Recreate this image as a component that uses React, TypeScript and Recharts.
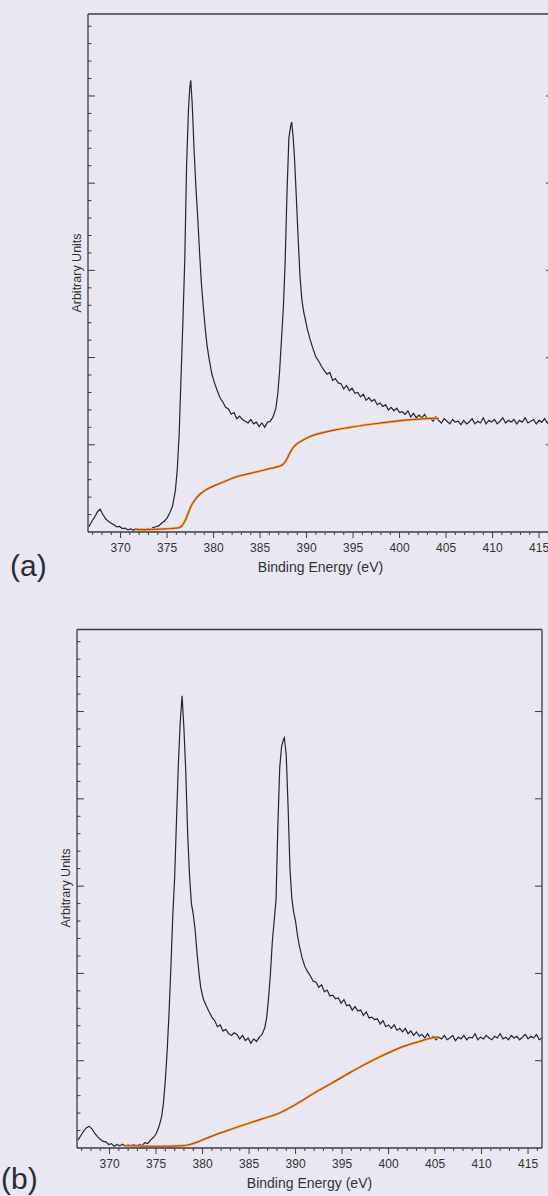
import { LineChart, Line, XAxis, YAxis } from "recharts";

// Binding energy (eV) vs intensity (arbitrary units, 1 unit = one minor y tick)
type Pt = [number, number];

const energyTicksMinor = [
  367, 368, 369, 370, 371, 372, 373, 374, 375, 376, 377, 378, 379, 380, 381, 382, 383,
  384, 385, 386, 387, 388, 389, 390, 391, 392, 393, 394, 395, 396, 397, 398, 399, 400,
  401, 402, 403, 404, 405, 406, 407, 408, 409, 410, 411, 412, 413, 414, 415, 416,
];
const energyTicksMajor = [370, 375, 380, 385, 390, 395, 400, 405, 410, 415];
const intensityTicksMinor = [
  1, 2, 3, 4, 5, 6, 7, 8, 9, 10, 11, 12, 13, 14, 15, 16, 17, 18, 19, 20, 21, 22, 23,
  24, 25, 26, 27, 28, 29,
];
const intensityTicksMajor = [5, 10, 15, 20, 25];

const spectrumA: Pt[] = [
  [366.6, 0.3], [366.9, 0.6], [367.2, 0.85], [367.5, 1.15], [367.8, 1.3], [368.1, 1.0],
  [368.4, 0.75], [368.7, 0.6], [369.0, 0.5], [369.3, 0.42], [369.6, 0.3], [369.9, 0.32],
  [370.2, 0.2], [370.5, 0.22], [370.8, 0.12], [371.1, 0.18], [371.4, 0.1], [371.7, 0.2],
  [372.0, 0.12], [372.3, 0.17], [372.6, 0.1], [372.9, 0.2], [373.2, 0.15], [373.5, 0.25],
  [373.8, 0.3], [374.1, 0.35], [374.4, 0.5], [374.7, 0.62], [375.0, 0.8], [375.3, 1.1],
  [375.6, 1.5], [375.9, 2.4], [376.1, 3.6], [376.3, 5.6], [376.5, 8.8], [376.7, 12.0],
  [376.9, 15.5], [377.1, 21.0], [377.3, 24.2], [377.45, 25.5], [377.55, 25.9], [377.7, 24.6],
  [377.9, 22.0], [378.1, 19.8], [378.3, 18.0], [378.5, 16.0], [378.7, 14.2], [378.9, 12.9],
  [379.1, 11.7], [379.3, 10.7], [379.5, 10.0], [379.8, 9.1], [380.1, 8.55], [380.4, 8.1],
  [380.7, 7.7], [381.0, 7.45], [381.3, 7.15], [381.6, 7.05], [381.9, 6.75], [382.2, 6.85],
  [382.5, 6.5], [382.8, 6.65], [383.1, 6.45], [383.4, 6.35], [383.7, 6.25], [384.0, 6.45],
  [384.3, 6.2], [384.6, 6.3], [384.9, 6.05], [385.2, 6.25], [385.5, 6.0], [385.8, 6.3],
  [386.1, 6.35], [386.4, 6.6], [386.7, 7.1], [386.9, 7.9], [387.1, 9.2], [387.3, 11.0],
  [387.5, 12.8], [387.7, 15.5], [387.9, 19.5], [388.1, 22.6], [388.3, 23.3], [388.4, 23.5],
  [388.55, 22.7], [388.7, 21.5], [388.9, 19.2], [389.1, 16.8], [389.3, 14.6], [389.5, 13.3],
  [389.7, 12.6], [389.9, 12.1], [390.1, 11.6], [390.4, 11.0], [390.7, 10.5], [391.0, 10.05],
  [391.3, 9.8], [391.6, 9.5], [391.9, 9.25], [392.2, 9.05], [392.5, 9.15], [392.8, 8.7],
  [393.1, 8.8], [393.4, 8.55], [393.7, 8.5], [394.0, 8.2], [394.3, 8.4], [394.6, 8.1],
  [394.9, 8.25], [395.2, 7.95], [395.5, 8.0], [395.8, 7.75], [396.1, 7.9], [396.4, 7.55],
  [396.7, 7.7], [397.0, 7.5], [397.3, 7.6], [397.6, 7.3], [397.9, 7.4], [398.2, 7.2],
  [398.5, 7.3], [398.8, 7.0], [399.1, 7.15], [399.4, 6.95], [399.7, 7.1], [400.0, 6.85],
  [400.3, 6.9], [400.6, 6.75], [400.9, 6.95], [401.2, 6.6], [401.5, 6.8], [401.8, 6.55],
  [402.1, 6.7], [402.4, 6.55], [402.7, 6.75], [403.0, 6.45], [403.3, 6.55], [403.6, 6.35],
  [403.9, 6.6], [404.2, 6.4], [404.5, 6.25], [404.8, 6.5], [405.1, 6.35], [405.4, 6.2],
  [405.7, 6.45], [406.0, 6.3], [406.3, 6.35], [406.6, 6.15], [406.9, 6.4], [407.2, 6.2],
  [407.5, 6.3], [407.8, 6.5], [408.1, 6.2], [408.4, 6.35], [408.7, 6.25], [409.0, 6.55],
  [409.3, 6.2], [409.6, 6.4], [409.9, 6.3], [410.2, 6.45], [410.5, 6.2], [410.8, 6.35],
  [411.1, 6.55], [411.4, 6.25], [411.7, 6.4], [412.0, 6.3], [412.3, 6.45], [412.6, 6.2],
  [412.9, 6.4], [413.2, 6.3], [413.5, 6.55], [413.8, 6.25], [414.1, 6.35], [414.4, 6.45],
  [414.7, 6.2], [415.0, 6.4], [415.3, 6.3], [415.6, 6.5], [415.9, 6.25], [416.2, 6.4],
  [416.5, 6.3],
];

const backgroundA: Pt[] = [
  [371.6, 0.15], [372.5, 0.14], [373.5, 0.15], [374.5, 0.17], [375.5, 0.2], [376.2, 0.24],
  [376.5, 0.3], [376.9, 0.6], [377.27, 1.07], [377.6, 1.5], [378.0, 1.84], [378.5, 2.15],
  [379.16, 2.41], [380.3, 2.7], [381.5, 2.97], [382.56, 3.18], [383.7, 3.33], [384.8, 3.47],
  [386.0, 3.63], [387.0, 3.76], [387.5, 3.9], [387.84, 4.14], [388.1, 4.42], [388.4, 4.71],
  [388.8, 4.98], [389.35, 5.19], [390.0, 5.38], [390.86, 5.57], [392.0, 5.73], [393.1, 5.86],
  [394.7, 6.0], [396.5, 6.15], [398.5, 6.28], [400.3, 6.4], [402.0, 6.47], [403.3, 6.51],
  [404.2, 6.52],
];

const spectrumB: Pt[] = [
  [366.6, 0.45], [366.9, 0.7], [367.2, 0.95], [367.5, 1.15], [367.8, 1.25], [368.1, 1.1],
  [368.4, 0.85], [368.7, 0.65], [369.0, 0.5], [369.3, 0.38], [369.6, 0.35], [369.9, 0.2],
  [370.2, 0.25], [370.5, 0.1], [370.8, 0.2], [371.1, 0.12], [371.4, 0.22], [371.7, 0.1],
  [372.0, 0.18], [372.3, 0.12], [372.6, 0.2], [372.9, 0.1], [373.2, 0.2], [373.5, 0.15],
  [373.8, 0.3], [374.1, 0.25], [374.4, 0.45], [374.7, 0.6], [375.0, 0.8], [375.3, 1.2],
  [375.6, 1.8], [375.8, 2.6], [376.0, 3.9], [376.2, 5.6], [376.4, 7.8], [376.6, 10.4],
  [376.8, 13.3], [377.0, 15.5], [377.2, 18.8], [377.4, 22.0], [377.6, 24.4], [377.8, 25.9],
  [378.0, 24.0], [378.2, 21.5], [378.4, 18.0], [378.6, 15.6], [378.8, 14.0], [379.0, 13.4],
  [379.2, 12.5], [379.4, 11.2], [379.6, 10.1], [379.8, 9.2], [380.1, 8.5], [380.4, 8.15],
  [380.7, 7.8], [381.0, 7.5], [381.3, 7.3], [381.6, 6.95], [381.9, 7.05], [382.2, 6.7],
  [382.5, 6.8], [382.8, 6.55], [383.1, 6.45], [383.4, 6.6], [383.7, 6.5], [384.0, 6.25],
  [384.3, 6.45], [384.6, 6.15], [384.9, 6.3], [385.2, 6.0], [385.5, 6.25], [385.8, 6.1],
  [386.1, 6.35], [386.4, 6.5], [386.7, 6.9], [386.9, 7.5], [387.1, 8.6], [387.3, 10.0],
  [387.5, 11.8], [387.7, 13.0], [387.9, 14.2], [388.1, 18.5], [388.3, 21.8], [388.5, 23.0],
  [388.7, 23.4], [388.8, 23.5], [389.0, 22.5], [389.2, 19.5], [389.4, 16.0], [389.6, 14.3],
  [389.8, 13.5], [390.0, 13.0], [390.2, 12.2], [390.4, 11.6], [390.7, 10.9], [391.0, 10.4],
  [391.3, 10.1], [391.6, 9.85], [391.9, 9.55], [392.2, 9.5], [392.5, 9.2], [392.8, 9.35],
  [393.1, 8.95], [393.4, 9.05], [393.7, 8.7], [394.0, 8.75], [394.3, 8.55], [394.6, 8.6],
  [394.9, 8.3], [395.2, 8.5], [395.5, 8.15], [395.8, 8.2], [396.1, 7.9], [396.4, 8.1],
  [396.7, 7.85], [397.0, 7.9], [397.3, 7.6], [397.6, 7.8], [397.9, 7.45], [398.2, 7.5],
  [398.5, 7.35], [398.8, 7.4], [399.1, 7.1], [399.4, 7.3], [399.7, 6.95], [400.0, 7.05],
  [400.3, 6.85], [400.6, 7.05], [400.9, 6.75], [401.2, 6.85], [401.5, 6.65], [401.8, 6.85],
  [402.1, 6.55], [402.4, 6.7], [402.7, 6.45], [403.0, 6.65], [403.3, 6.4], [403.6, 6.5],
  [403.9, 6.3], [404.2, 6.55], [404.5, 6.25], [404.8, 6.4], [405.1, 6.2], [405.4, 6.35],
  [405.7, 6.25], [406.0, 6.45], [406.3, 6.2], [406.6, 6.3], [406.9, 6.45], [407.2, 6.15],
  [407.5, 6.35], [407.8, 6.25], [408.1, 6.45], [408.4, 6.2], [408.7, 6.35], [409.0, 6.3],
  [409.3, 6.55], [409.6, 6.2], [409.9, 6.35], [410.2, 6.25], [410.5, 6.45], [410.8, 6.3],
  [411.1, 6.2], [411.4, 6.4], [411.7, 6.3], [412.0, 6.55], [412.3, 6.25], [412.6, 6.35],
  [412.9, 6.2], [413.2, 6.45], [413.5, 6.3], [413.8, 6.4], [414.1, 6.2], [414.4, 6.35],
  [414.7, 6.5], [415.0, 6.25], [415.3, 6.4], [415.6, 6.3], [415.9, 6.5], [416.2, 6.2],
  [416.5, 6.3],
];

const backgroundB: Pt[] = [
  [371.6, 0.13], [373.0, 0.12], [374.5, 0.1], [376.0, 0.1], [377.5, 0.12], [378.4, 0.17],
  [379.5, 0.35], [380.66, 0.61], [382.5, 0.97], [384.4, 1.32], [386.3, 1.65], [388.2, 1.99],
  [390.1, 2.52], [391.98, 3.14], [393.9, 3.72], [395.75, 4.29], [397.6, 4.83], [399.53, 5.34],
  [401.4, 5.78], [403.3, 6.1], [404.4, 6.27], [405.4, 6.36],
];

const PAGE_BG = "#e9e7f1";
const AXIS = "#3b3a44";
const INK = "#26252e";
const TEXT = "#333";
const FONT = '"Liberation Sans", Arial, sans-serif';
const X_DOMAIN: [number, number] = [366.5, 416.5];
const Y_DOMAIN: [number, number] = [0, 29.7];

const rows = (pts: Pt[]) => pts.map(([e, v]) => ({ e, v }));

// bottom axis: short minor ticks, longer major ticks with labels
const EnergyTick = (props: any) => {
  const { x, y, payload } = props;
  const major = energyTicksMajor.includes(payload.value);
  return (
    <g>
      <line x1={x} x2={x} y1={y} y2={y + (major ? 6 : 3)} stroke={AXIS} strokeWidth={1} />
      {major && (
        <text x={x} y={y + 20} textAnchor="middle" fontSize={12} fill={TEXT} fontFamily={FONT}>
          {payload.value}
        </text>
      )}
    </g>
  );
};

// left axis: ticks point into the plot
const LeftTick = (props: any) => {
  const { x, y, payload } = props;
  const major = intensityTicksMajor.includes(payload.value);
  return <line x1={x} x2={x + (major ? 7 : 3.5)} y1={y} y2={y} stroke={AXIS} strokeWidth={1} />;
};

// right axis: major ticks only, pointing inward
const RightTick = (props: any) => {
  const { x, y } = props;
  return <line x1={x} x2={x - 7} y1={y} y2={y} stroke={AXIS} strokeWidth={1} />;
};

type PanelProps = {
  top: number;
  height: number;
  plot: { left: number; right: number; top: number; bottom: number };
  spectrum: Pt[];
  background: Pt[];
  letter: string;
  letterLeft: number;
  letterY: number;
  yLabelX: number;
  yLabelY: number;
};

function Panel({ top, height, plot, spectrum, background, letter, letterLeft, letterY, yLabelX, yLabelY }: PanelProps) {
  const width = 600;
  const xAxisHeight = 30;
  const margin = {
    top: plot.top - 1,
    left: plot.left - 1,
    right: width - plot.right - 1,
    bottom: height - plot.bottom - xAxisHeight,
  };
  return (
    <div style={{ position: "absolute", left: 0, top, width, height }}>
      <LineChart width={width} height={height} margin={margin}>
        <XAxis
          xAxisId="energy"
          type="number"
          dataKey="e"
          domain={X_DOMAIN}
          allowDataOverflow
          ticks={energyTicksMinor}
          interval={0}
          height={xAxisHeight}
          tickSize={0}
          tickMargin={0}
          tickLine={false}
          tick={<EnergyTick />}
          stroke={AXIS}
          strokeWidth={1.3}
        />
        <XAxis
          xAxisId="frame"
          orientation="top"
          type="number"
          dataKey="e"
          domain={X_DOMAIN}
          allowDataOverflow
          height={1}
          ticks={[]}
          tickLine={false}
          tick={false}
          mirror
          stroke={AXIS}
          strokeWidth={1.3}
        />
        <YAxis
          yAxisId="intensity"
          type="number"
          domain={Y_DOMAIN}
          allowDataOverflow
          ticks={intensityTicksMinor}
          interval={0}
          width={1}
          mirror
          tickSize={0}
          tickMargin={0}
          tickLine={false}
          tick={<LeftTick />}
          stroke={AXIS}
          strokeWidth={1.3}
        />
        <YAxis
          yAxisId="right"
          orientation="right"
          type="number"
          domain={Y_DOMAIN}
          allowDataOverflow
          ticks={intensityTicksMajor}
          interval={0}
          width={1}
          mirror
          tickSize={0}
          tickMargin={0}
          tickLine={false}
          tick={<RightTick />}
          stroke={AXIS}
          strokeWidth={1.3}
        />
        <Line
          xAxisId="energy"
          yAxisId="intensity"
          data={rows(spectrum)}
          dataKey="v"
          type="linear"
          stroke={INK}
          strokeWidth={1.2}
          dot={false}
          isAnimationActive={false}
        />
        <Line
          xAxisId="energy"
          yAxisId="intensity"
          data={rows(background)}
          dataKey="v"
          type="monotone"
          stroke="#e6c34a"
          strokeWidth={2.6}
          dot={false}
          isAnimationActive={false}
        />
        <Line
          xAxisId="energy"
          yAxisId="intensity"
          data={rows(background)}
          dataKey="v"
          type="monotone"
          stroke="#c9392b"
          strokeWidth={1.2}
          dot={false}
          isAnimationActive={false}
        />
      </LineChart>
      <div
        style={{
          position: "absolute",
          left: yLabelX,
          top: yLabelY,
          transform: "translate(-50%, -50%) rotate(-90deg)",
          fontFamily: FONT,
          fontSize: 12.5,
          color: TEXT,
          whiteSpace: "nowrap",
        }}
      >
        Arbitrary Units
      </div>
      <div
        style={{
          position: "absolute",
          left: (plot.left + plot.right) / 2,
          top: plot.bottom + 35,
          transform: "translate(-50%, -50%)",
          fontFamily: FONT,
          fontSize: 14,
          color: TEXT,
          whiteSpace: "nowrap",
        }}
      >
        Binding Energy (eV)
      </div>
      <div
        style={{
          position: "absolute",
          left: letterLeft,
          top: letterY,
          transform: "translateY(-50%)",
          fontFamily: FONT,
          fontSize: 30,
          lineHeight: 1,
          color: "#2b2b33",
          whiteSpace: "nowrap",
        }}
      >
        {letter}
      </div>
    </div>
  );
}

export default function App() {
  return (
    <div
      style={{
        position: "fixed",
        left: 0,
        top: 0,
        width: 548,
        height: 1196,
        background: PAGE_BG,
        overflow: "hidden",
      }}
    >
      <Panel
        top={0}
        height={580}
        plot={{ left: 89, right: 552, top: 15, bottom: 532 }}
        spectrum={spectrumA}
        background={backgroundA}
        letter="(a)"
        letterLeft={10}
        letterY={566}
        yLabelX={77}
        yLabelY={273}
      />
      <Panel
        top={600}
        height={596}
        plot={{ left: 78, right: 541, top: 30.5, bottom: 548 }}
        spectrum={spectrumB}
        background={backgroundB}
        letter="(b)"
        letterLeft={1}
        letterY={579}
        yLabelX={66}
        yLabelY={288}
      />
    </div>
  );
}
